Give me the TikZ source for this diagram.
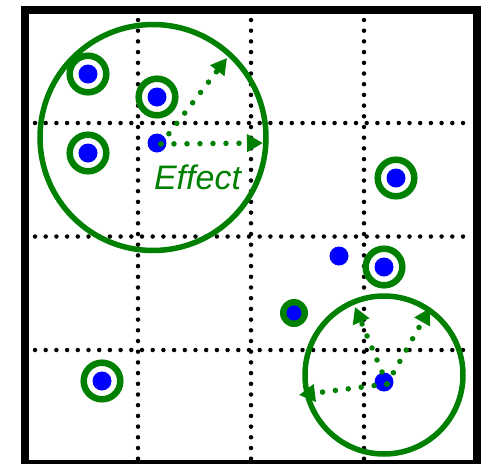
\documentclass[tikz,border=0pt]{standalone}
\usepackage{fontspec}
\setmainfont{Liberation Sans}
\usetikzlibrary{arrows.meta}
\definecolor{dgreen}{RGB}{0,128,0}
\begin{document}
\begin{tikzpicture}[x=1pt,y=-1pt,
 dot/.style={circle,fill=blue,inner sep=0pt,minimum size=19pt},
 smalldot/.style={circle,fill=blue,inner sep=0pt,minimum size=15pt},
 ring/.style={draw=dgreen,line width=6.5pt},
 gridline/.style={line width=4.5pt,line cap=round,dash pattern=on 0pt off 10.7pt},
 big/.style={draw=dgreen,line width=5.5pt},
 eff/.style={dgreen,line width=5.5pt,line cap=round,dash pattern=on 0pt off 13pt,-{Triangle[length=16pt,width=17pt]}}]
\useasboundingbox (0,0) rectangle (483,464);
% grid
\foreach \x in {138,251,364} \draw[gridline] (\x,20) -- (\x,459);
\foreach \y in {123,236.5,350} \draw[gridline] (35,\y) -- (470,\y);
% frame
\draw[line width=8pt] (25,9.5) rectangle (477,463.5);
% text
\node[text=dgreen,font=\itshape\fontsize{34}{34}\selectfont,anchor=base,inner sep=0pt] (eff) at (197.5,189) {Effect};
% big circles
\node[circle,inner sep=0pt] (C1) at (153,137.5) {};
\node[circle,inner sep=0pt] (C2) at (384,375) {};
\draw[big] (C1.center) circle[radius=113];
\draw[big] (C2.center) circle[radius=79];
% ringed dots
\foreach \n/\p in {r1/{(88,74)},r2/{(157,97)},r3/{(88,153)},r4/{(102,381)},r5/{(396,178)},r6/{(384,267)}}{
  \node[dot] (\n) at \p {};
  \draw[ring] (\n.center) circle[radius=18.3];
}
% filled small ring
\fill[dgreen] (294,313) circle[radius=14];
\node[smalldot] (s1) at (294,313) {};
% plain dots
\node[dot] (d1) at (157,143) {};
\node[dot] (d2) at (339,256) {};
\node[dot] (d3) at (384,382) {};
% arrow end points
\coordinate (t1) at (227,58);
\coordinate (t2) at (263,143);
\coordinate (t3) at (355,307);
\coordinate (t4) at (430,308);
\coordinate (t5) at (299,395);
\draw[eff] ([shift={(4,1)}]d1.center) -- (t1);
\draw[eff] ([shift={(4,1)}]d1.center) -- (t2);
\draw[eff] ([shift={(3,2)}]d3.center) -- (t3);
\draw[eff] ([shift={(3,2)}]d3.center) -- (t4);
\draw[eff] ([shift={(3,2)}]d3.center) -- (t5);
\end{tikzpicture}
\end{document}
